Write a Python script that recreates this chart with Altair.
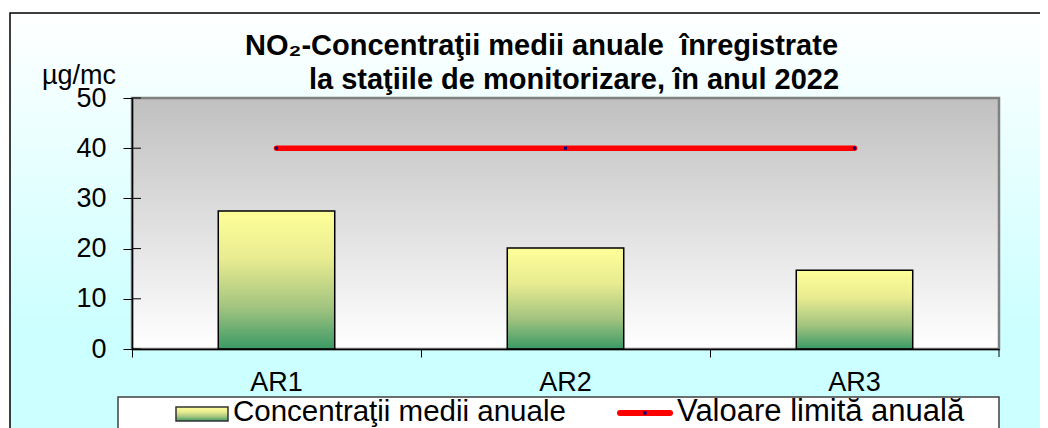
import altair as alt
import pandas as pd

# ---- data ----
stations = ["AR1", "AR2", "AR3"]
concentrations = [27.5, 20.1, 15.7]
limit_values = [40, 40, 40]
y_ticks = [0, 10, 20, 30, 40, 50]

title_line1 = "NO₂-Concentraţii medii anuale\u00a0 înregistrate"
title_line2 = "la staţiile de monitorizare, în anul 2022"
unit_label = "µg/mc"
legend_labels = ["Concentraţii medii anuale", "Valoare limită anuală"]

df = pd.DataFrame({"station": stations, "conc": concentrations, "limit": limit_values})
one = pd.DataFrame({"k": [0]})
tick_df = pd.DataFrame({"v": y_ticks})

W, H = 867, 251
FONT = "Arial"

def vgrad(stops):
    return alt.Gradient(
        gradient="linear",
        stops=[alt.GradientStop(color=c, offset=o) for o, c in stops],
        x1=0, x2=0, y1=0, y2=1,
    )

grad_outer = vgrad([(0, "#ffffff"), (0.75, "#ccffff"), (1, "#ccffff")])
grad_plot = vgrad([(0, "#c0c0c0"), (1, "#ffffff")])
grad_bar = vgrad([(0, "#ffff99"), (0.35, "#e8eb90"), (0.7, "#a2c47f"), (1, "#3a9966")])

xaxis = alt.Axis(
    title=None, bandPosition=0, tickSize=8, tickColor="black", tickWidth=1,
    domainColor="black", domainWidth=1.5, labelFont=FONT, labelFontSize=27,
    labelColor="black", labelAngle=0, labelPadding=12,
    zindex=1, grid=False,
)
yaxis = alt.Axis(
    title=None, values=y_ticks, tickSize=9, tickColor="black", tickWidth=1,
    domainColor="black", domainWidth=1.5, labelFont=FONT, labelFontSize=27,
    labelColor="black", labelPadding=17, zindex=1, grid=False,
)
xscale = alt.Scale(paddingInner=0, paddingOuter=0)
yscale = alt.Scale(domain=[0, 50], nice=False)

def X():
    return alt.X("station:N", sort=stations, scale=xscale, axis=xaxis)

def Y(field):
    return alt.Y(f"{field}:Q", scale=yscale, axis=yaxis)

outer_bg = alt.Chart(one).mark_rect(fill=grad_outer, stroke="black", strokeWidth=1.5).encode(
    x=alt.value(-122), x2=alt.value(W + 60), y=alt.value(-85), y2=alt.value(H + 90)
)
plot_bg = alt.Chart(one).mark_rect(fill=grad_plot, stroke="#808080", strokeWidth=2.5).encode(
    x=alt.value(0), x2=alt.value(W), y=alt.value(0), y2=alt.value(H)
)

bars = alt.Chart(df).mark_bar(
    fill=grad_bar, stroke="black", strokeWidth=1.5, width=alt.RelativeBandSize(0.403)
).encode(x=X(), y=Y("conc"))

limit_line = alt.Chart(df).mark_line(color="#ff0000", strokeWidth=5.5, strokeCap="round").encode(
    x=X(), y=Y("limit")
)
limit_pts = alt.Chart(df).mark_point(shape="square", filled=True, color="#000080", size=10, opacity=1).encode(
    x=X(), y=Y("limit")
)

ytick_inner = alt.Chart(tick_df).mark_rule(color="black", strokeWidth=1).encode(
    y=Y("v"), x=alt.value(0), x2=alt.value(9)
)
last_xtick = alt.Chart(one).mark_rule(color="black", strokeWidth=1).encode(
    x=alt.value(W), y=alt.value(H), y2=alt.value(H + 8)
)

def txt(s, x, y, size=27, weight="normal", align="left"):
    return alt.Chart(one).mark_text(
        text=s, font=FONT, fontSize=size, fontWeight=weight, align=align,
        baseline="alphabetic", color="black",
    ).encode(x=alt.value(x), y=alt.value(y))

t1 = txt(title_line1, 409.5, -43, 29, "bold", "center")
t2 = txt(title_line2, 442, -9, 29, "bold", "center")
unit = txt(unit_label, -90, -14, 27)

legend_box = alt.Chart(one).mark_rect(fill="white", stroke="#404040", strokeWidth=1.5).encode(
    x=alt.value(-14), x2=alt.value(W), y=alt.value(299), y2=alt.value(H + 100)
)
leg_sw1 = alt.Chart(one).mark_rect(fill=grad_bar, stroke="#333333", strokeWidth=1.5).encode(
    x=alt.value(44), x2=alt.value(96), y=alt.value(309), y2=alt.value(323)
)
leg_t1 = txt(legend_labels[0], 101, 323, 29.5)
leg_sw2 = alt.Chart(one).mark_rule(color="#ff0000", strokeWidth=6, strokeCap="round").encode(
    x=alt.value(488), x2=alt.value(538), y=alt.value(315)
)
leg_pt2 = alt.Chart(one).mark_point(shape="square", filled=True, color="#000080", size=10, opacity=1).encode(
    x=alt.value(513), y=alt.value(315)
)
leg_t2 = txt(legend_labels[1], 545, 323, 31)

chart = alt.layer(
    outer_bg, plot_bg, bars, limit_line, limit_pts, ytick_inner, last_xtick,
    t1, t2, unit, legend_box, leg_sw1, leg_t1, leg_sw2, leg_pt2, leg_t2,
).properties(
    width=W, height=H,
    padding={"left": 124, "top": 90, "right": 41, "bottom": 80},
    autosize="none",
).configure_view(stroke=None).configure(background="white")

chart.save("out.html", embed_options={"renderer": "svg", "actions": False})
